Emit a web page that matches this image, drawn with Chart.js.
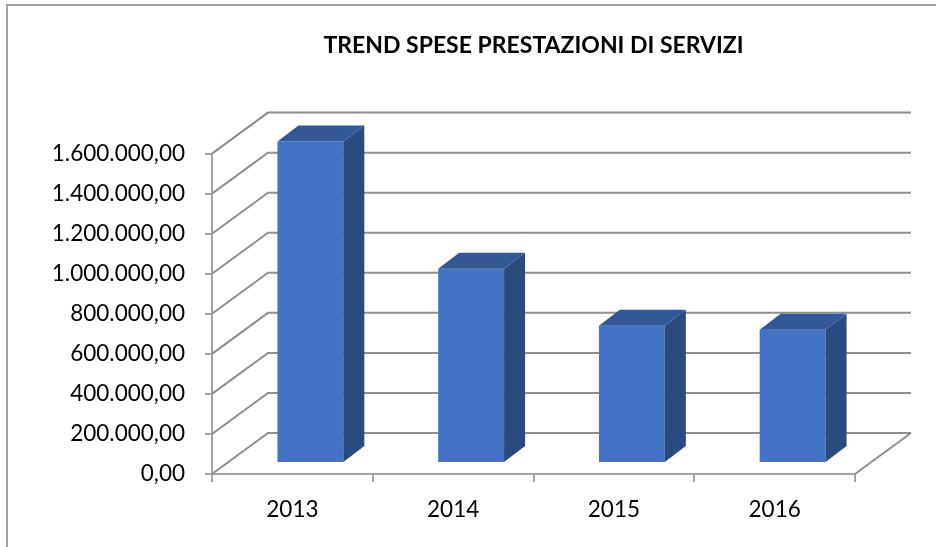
<!DOCTYPE html>
<html>
<head>
<meta charset="utf-8">
<script src="https://cdn.jsdelivr.net/npm/chart.js@4/dist/chart.umd.min.js"></script>
<style>
html,body{margin:0;padding:0;background:#fff;}
#wrap{position:relative;width:936px;height:547px;}
</style>
</head>
<body>
<div id="wrap"><canvas id="c" width="936" height="547"></canvas></div>
<script>
// ---- data ----
const categories = ['2013', '2014', '2015', '2016'];
const spese = [1605000, 970000, 685000, 665000];
const yTickValues = [0, 200000, 400000, 600000, 800000, 1000000, 1200000, 1400000, 1600000];
const chartTitle = 'TREND SPESE PRESTAZIONI DI SERVIZI';

// ---- style constants ----
const FONT = 'Lato, "Open Sans", sans-serif';
const GRID = '#8e8e8e';
const AXIS = '#a3a3a3';
const WALL_DX = 56, WALL_DY = -41;
const BAR_DX = 18, BAR_DY = -11;
const FACE_DX = 21, FACE_DY = -16;

function fmtIt(v) {
  const parts = Math.round(v).toString().replace(/\B(?=(\d{3})+(?!\d))/g, '.');
  return parts + ',00';
}

const threeD = {
  id: 'threeD',
  beforeDraw(chart) {
    const ctx = chart.ctx;
    ctx.save();
    ctx.fillStyle = '#fff';
    ctx.fillRect(0, 0, chart.width, chart.height);
    // outer frame
    ctx.strokeStyle = '#a0a0a0';
    ctx.lineWidth = 2;
    ctx.beginPath();
    ctx.moveTo(7, chart.height);
    ctx.lineTo(7, 5);
    ctx.lineTo(chart.width, 5);
    ctx.stroke();
    ctx.restore();
  },
  beforeDatasetsDraw(chart) {
    const ctx = chart.ctx;
    const a = chart.chartArea;
    const ys = chart.scales.y;
    ctx.save();
    ctx.strokeStyle = GRID;
    ctx.lineWidth = 2;
    yTickValues.forEach(v => {
      const y = ys.getPixelForValue(v);
      ctx.beginPath();
      ctx.moveTo(a.left, y);
      ctx.lineTo(a.left + WALL_DX, y + WALL_DY);
      ctx.lineTo(a.right + WALL_DX, y + WALL_DY);
      ctx.stroke();
    });
    // floor right edge
    const y0 = ys.getPixelForValue(0);
    ctx.beginPath();
    ctx.moveTo(a.right, y0);
    ctx.lineTo(a.right + WALL_DX, y0 + WALL_DY);
    ctx.stroke();
    ctx.restore();
    // shift bars into the depth of the plot
    ctx.save();
    ctx.translate(BAR_DX, BAR_DY);
  },
  afterDatasetsDraw(chart) {
    const ctx = chart.ctx;
    const meta = chart.getDatasetMeta(0);
    meta.data.forEach(bar => {
      const p = bar.getProps(['x', 'y', 'base', 'width'], true);
      const l = p.x - p.width / 2, r = p.x + p.width / 2;
      // side face
      ctx.fillStyle = '#2b4a80';
      ctx.beginPath();
      ctx.moveTo(r, p.y);
      ctx.lineTo(r + FACE_DX, p.y + FACE_DY);
      ctx.lineTo(r + FACE_DX, p.base + FACE_DY);
      ctx.lineTo(r, p.base);
      ctx.closePath();
      ctx.fill();
      // top face
      ctx.fillStyle = '#345796';
      ctx.beginPath();
      ctx.moveTo(l, p.y);
      ctx.lineTo(l + FACE_DX, p.y + FACE_DY);
      ctx.lineTo(r + FACE_DX, p.y + FACE_DY);
      ctx.lineTo(r, p.y);
      ctx.closePath();
      ctx.fill();
    });
    ctx.restore();
  }
};

new Chart(document.getElementById('c'), {
  type: 'bar',
  data: {
    labels: categories,
    datasets: [{
      label: 'Spese',
      data: spese,
      backgroundColor: '#4472c4',
      borderWidth: 0,
      categoryPercentage: 1,
      barPercentage: 0.41,
      clip: false
    }]
  },
  options: {
    responsive: false,
    animation: false,
    layout: { padding: { left: 0, right: 81, top: 0, bottom: 0 } },
    plugins: {
      legend: { display: false },
      tooltip: { enabled: false },
      title: {
        display: true,
        text: chartTitle,
        fullSize: false,
        color: '#000',
        font: { family: FONT, size: 23, weight: 'bold' },
        padding: { top: 32, bottom: 94 }
      }
    },
    scales: {
      x: {
        grid: { drawOnChartArea: false, tickLength: 8, color: AXIS, lineWidth: 2, offset: true },
        border: { color: AXIS, width: 2 },
        ticks: { color: '#000', font: { family: FONT, size: 22.5 }, padding: 14 },
        afterFit(s) { s.height = 73; }
      },
      y: {
        min: 0,
        max: 1600000,
        afterBuildTicks(s) { s.ticks = yTickValues.map(v => ({ value: v })); },
        grid: { drawOnChartArea: false, tickLength: 7, color: AXIS, lineWidth: 2 },
        border: { color: AXIS, width: 2 },
        ticks: { color: '#000', font: { family: FONT, size: 22.5 }, padding: 20, callback: v => fmtIt(v) },
        afterFit(s) { s.width = 212; }
      }
    }
  },
  plugins: [threeD]
});
</script>
</body>
</html>
